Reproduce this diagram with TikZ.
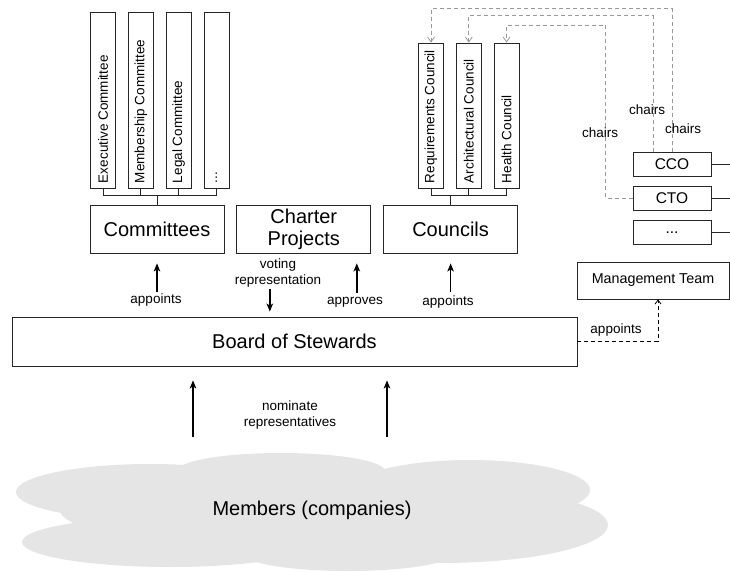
\documentclass[tikz,border=0pt]{standalone}
\usepackage{fontspec}
\setmainfont{Liberation Sans}
\usepackage{tikz}
\usetikzlibrary{arrows.meta,positioning,chains}
\tikzstyle{tall}=[draw=black!85, line width=0.8pt, minimum width=25pt, inner xsep=0pt, inner ysep=5pt,
        text depth=0pt, font=\fontsize{13.5}{16}\selectfont]
\tikzstyle{box1}=[draw=black!85, line width=0.8pt, minimum width=134pt, minimum height=48pt,
        align=center, font=\fontsize{20}{22}\selectfont]
\tikzstyle{officer}=[draw=black!85, line width=0.8pt, minimum width=78pt, minimum height=24pt,
        inner sep=0pt, font=\fontsize{15.5}{18}\selectfont]
\tikzstyle{lbl}=[align=center, inner sep=0pt, font=\fontsize{13.5}{16}\selectfont]
\tikzstyle{link}=[draw=black!85, line width=0.8pt]
\tikzstyle{arr}=[-{Stealth[length=8pt,width=6.5pt,inset=2pt]}, line width=1.5pt]
\tikzstyle{chair}=[draw=black!40, line width=0.8pt, dash pattern=on 4pt off 3pt,
        -{Straight Barb[length=5pt,width=7pt]}]
\tikzstyle{cloudpart}=[fill=black!10]

\begin{document}
\begin{tikzpicture}[x=1pt, y=-1pt, start chain=1 going right, start chain=2 going right,
			start chain=3 going right, start chain=4 going below, node distance=12pt]
\useasboundingbox (0,0) rectangle (730,571);

% members cloud
\fill[cloudpart] (150,492) ellipse [x radius=134, y radius=28];
\fill[cloudpart] (281,471) ellipse [x radius=104, y radius=18];
\fill[cloudpart] (470,490) ellipse [x radius=120, y radius=30];
\fill[cloudpart] (170,542) ellipse [x radius=148, y radius=25];
\fill[cloudpart] (440,525) ellipse [x radius=168, y radius=38];
\fill[cloudpart] (348,553) ellipse [x radius=106, y radius=18];
\fill[cloudpart] (310,510) ellipse [x radius=250, y radius=40];
\node [minimum width=592pt, minimum height=114pt, font=\fontsize{20}{22}\selectfont] (members) at (312,510) {Members (companies)};

\node [tall, text height=166pt, on chain=1] (exec) at (103,100) {\rotatebox{90}{Executive Committee}};
\node [tall, text height=166pt, on chain=1] (memb) {\rotatebox{90}{Membership Committee}};
\node [tall, text height=166pt, on chain=1] (legal) {\rotatebox{90}{Legal Committee}};
\node [tall, text height=166pt, on chain=1] (more) {\rotatebox{90}{...}};

\node [tall, text height=135pt, on chain=2] (req) at (431,115.5) {\rotatebox{90}{Requirements Council}};
\node [tall, text height=135pt, on chain=2] (arch) {\rotatebox{90}{Architectural Council}};
\node [tall, text height=135pt, on chain=2] (health) {\rotatebox{90}{Health Council}};

\node [box1, on chain=3] (committees) at (157,229) {Committees};
\node [box1, on chain=3] (charter) {Charter\\Projects};
\node [box1, on chain=3] (councils) {Councils};

\node [officer, on chain=4] (cco) at (672,164) {CCO};
\node [officer, node distance=9.5pt, on chain=4] (cto) {CTO};
\node [officer, node distance=9.5pt, on chain=4] (others) {...};

\node [box1, minimum width=152pt, minimum height=37pt, font=\fontsize{14.3}{16}\selectfont] (mgmt) at (653,280.5) {Management Team};
\node [box1, minimum width=565pt, minimum height=49pt] (board) at (294.5,341.5) {Board of Stewards};

\draw[link] (exec.south) -- ++(0,7) -| (more.south);
\draw[link] (memb.south) -- ++(0,7);
\draw[link] (legal.south) -- ++(0,7);
\draw[link] (committees.north) -- ++(0,-10);
\draw[link] (req.south) -- ++(0,7) -| (health.south);
\draw[link] (arch.south) -- ++(0,7);
\draw[link] (councils.north) -- ++(0,-10);
\draw[link] (cco.east) -- ++(19,0);
\draw[link] (cto.east) -- ++(19,0);
\draw[link] (others.east) -- ++(19,0);

\draw[chair] (cco.north) -- ++(0,-143) -| (req.north);
\draw[chair] ([xshift=-19pt]cco.north) -- ++(0,-136) -| (arch.north);
\draw[chair] (cto.west) -- ++(-27,0) -- ++(0,-173) -| (health.north);
\node [lbl] (chairsA) at (600,133) {chairs};
\node [lbl] (chairsB) at (647,110) {chairs};
\node [lbl] (chairsC) at (683,129) {chairs};

\draw[arr, shorten <=25pt, shorten >=10pt] (board.north -| committees.south) -- (committees.south);
\node [lbl] (appointsA) at (156,300) {appoints};
\draw[arr, shorten <=36pt, shorten >=5pt] ([xshift=-34pt]charter.south) -- ([xshift=-34pt]charter.south |- board.north);
\node [lbl, align=center] (voting) at (278,273) {voting\\representation};
\draw[arr, shorten <=24pt, shorten >=10pt] ([xshift=53pt]charter.south |- board.north) -- ([xshift=53pt]charter.south);
\node [lbl] (approves) at (355,302) {approves};
\draw[arr, shorten <=25pt, shorten >=10pt] (board.north -| councils.south) -- (councils.south);
\node [lbl] (appointsB) at (448,302) {appoints};

\draw[line width=0.8pt, dash pattern=on 4pt off 3pt, -{Straight Barb[length=4pt,width=6pt]}] (board.east) -| ([xshift=5pt]mgmt.south);
\node [lbl] (appointsC) at (616,330) {appoints};

\draw[arr, shorten <=16pt, shorten >=14pt] ([xshift=-119pt]members.north) -- ([xshift=-119pt]members.north |- board.south);
\draw[arr, shorten <=16pt, shorten >=14pt] ([xshift=75pt]members.north) -- ([xshift=75pt]members.north |- board.south);
\node [lbl] (nominate) at (290,415) {nominate\\representatives};

\end{tikzpicture}
\end{document}
